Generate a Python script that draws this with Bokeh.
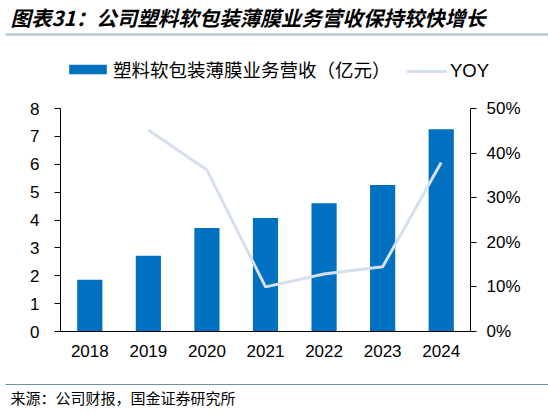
from bokeh.plotting import figure
from bokeh.layouts import column, row
from bokeh.models import (Range1d, FactorRange, LinearAxis, FixedTicker, PrintfTickFormatter,
                          Legend, LegendItem, ColumnDataSource)
from bokeh.core.properties import value
from bokeh.embed import file_html
from bokeh.resources import INLINE

# data
years = ["2018", "2019", "2020", "2021", "2022", "2023", "2024"]
revenue = [1.86, 2.72, 3.71, 4.07, 4.60, 5.26, 7.26]      # 亿元
yoy = [None, 45.2, 36.2, 10.0, 12.9, 14.5, 37.9]          # %

title_text = "图表31：公司塑料软包装薄膜业务营收保持较快增长"
bar_label = "塑料软包装薄膜业务营收（亿元）"
line_label = "YOY"
source_text = "来源：公司财报，国金证券研究所"

CJK = "Noto Sans CJK SC"
LAT = "Liberation Sans"
BAR_COLOR = "#0070C0"
LINE_COLOR = "#D6DFF2"
W = 548


def blank(height):
    # a figure whose frame is the whole canvas, for title / source strips
    f = figure(width=W, height=height, x_range=Range1d(0, W), y_range=Range1d(height, 0),
               x_axis_type=None, y_axis_type=None, output_backend="svg", toolbar_location=None,
               min_border=0)
    f.xgrid.visible = False
    f.ygrid.visible = False
    f.outline_line_color = None
    return f


# header: title, rule and legend
head = blank(94)
head.text(x=[10], y=[16.5], text=[title_text], text_baseline="middle", text_align="left",
          text_font=value(CJK), text_font_size="20.5px", text_font_style="bold italic",
          text_color="black")
head.segment(x0=[5], y0=[34], x1=[W], y1=[34], line_color="#A9C0CF", line_width=2)

# legend swatches: same styles as the chart's renderers, drawn off-canvas
leg_bar = head.vbar(x=[-100], top=[0], width=1, color=BAR_COLOR, line_color=None)
leg_line = head.line(x=[-100, -90], y=[0, 0], line_color=LINE_COLOR, line_width=3)
leg_style = dict(orientation="horizontal", glyph_height=12, padding=0, margin=0,
                 border_line_color=None, background_fill_alpha=0,
                 label_text_font_size="18.5px", label_text_color="black")
head.add_layout(Legend(items=[LegendItem(label=bar_label, renderers=[leg_bar])], location=(64, 12),
                       glyph_width=47, label_standoff=2, label_text_font=CJK, **leg_style))
head.add_layout(Legend(items=[LegendItem(label=line_label, renderers=[leg_line])], location=(406, 12),
                       glyph_width=41, label_standoff=3, label_text_font=LAT, **leg_style))

# main chart
p = figure(width=W, height=281, x_range=FactorRange(*years, range_padding=0),
           y_range=Range1d(0, 8), output_backend="svg", toolbar_location=None,
           min_border_left=60, min_border_right=78, min_border_top=14, min_border_bottom=44)
p.extra_y_ranges = {"yoy": Range1d(0, 50)}

p.vbar(x=years, top=revenue, width=0.43, color=BAR_COLOR, line_color=None)

yoy_src = ColumnDataSource(dict(x=[y for y, v in zip(years, yoy) if v is not None],
                                y=[v for v in yoy if v is not None]))
p.line("x", "y", source=yoy_src, y_range_name="yoy", line_color=LINE_COLOR, line_width=3)

p.xgrid.visible = False
p.ygrid.visible = False
p.outline_line_color = None

ya = p.yaxis[0]
ya.ticker = FixedTicker(ticks=list(range(0, 9)))
ya.major_label_standoff = 15

ra = LinearAxis(y_range_name="yoy", ticker=FixedTicker(ticks=[0, 10, 20, 30, 40, 50]),
                formatter=PrintfTickFormatter(format="%d%%"))
ra.major_label_standoff = 10
p.add_layout(ra, "right")

xa = p.xaxis[0]
xa.major_tick_out = 0
xa.major_label_standoff = 13

for ax in (ya, ra, xa):
    if ax is not xa:
        ax.major_tick_out = 6
    ax.major_tick_in = 0
    ax.minor_tick_out = 0
    ax.minor_tick_in = 0
    ax.axis_line_color = "black"
    ax.major_tick_line_color = "black"
    ax.major_label_text_font = LAT
    ax.major_label_text_font_size = "17px"
    ax.major_label_text_color = "black"

# footer: rule and source
foot = blank(40)
foot.segment(x0=[5], y0=[9], x1=[W], y1=[9], line_color="#6F8FA5", line_width=1)
foot.text(x=[10], y=[22], text=[source_text], text_baseline="middle", text_align="left",
          text_font=value(CJK), text_font_size="15px", text_color="black")

# rows keep the strips from being lined up with the chart's frame
page = column(row(head), p, row(foot))
open("out.html", "w").write(file_html(page, INLINE))
